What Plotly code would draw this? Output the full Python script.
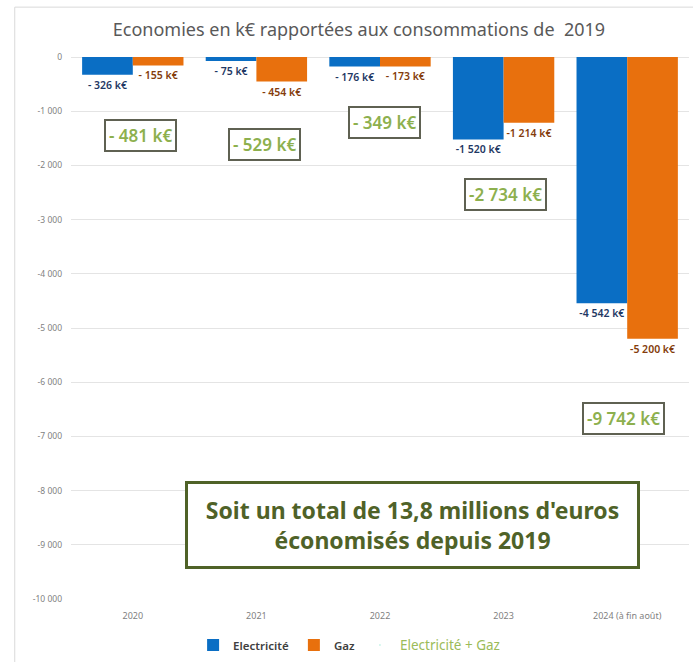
import plotly.graph_objects as go

categories = ["2020", "2021", "2022", "2023", "2024 (à fin août)"]
electricite = [-326, -75, -176, -1520, -4542]
gaz = [-155, -454, -173, -1214, -5200]
tick_vals = [0, -1000, -2000, -3000, -4000, -5000, -6000, -7000, -8000, -9000, -10000]
tick_text = ["0", "-1 000", "-2 000", "-3 000", "-4 000", "-5 000", "-6 000",
             "-7 000", "-8 000", "-9 000", "-10 000"]

totals = [e + g for e, g in zip(electricite, gaz)]

# placement of the total boxes (layout, not data)
TOTAL_BOX_Y = [-1455, -1620, -1215, -2540, -6670]
TOTAL_BOX_XSHIFT = [8, 8, 4, 2, -4]


def fmt(v):
    a = abs(v)
    if a < 1000:
        return f"- {a} k€"
    return f"-{a // 1000} {a % 1000:03d} k€"


FONT = "Noto Sans"
fig = go.Figure()
fig.add_trace(go.Bar(
    x=categories, y=electricite, name="Electricité",
    marker=dict(color="#0A6EC4", line=dict(width=0)),
    text=[fmt(v) for v in electricite], textposition="outside",
    constraintext="none", cliponaxis=False,
    textfont=dict(size=10.5, color="#1F3864", family=FONT, weight=600),
))
fig.add_trace(go.Bar(
    x=categories, y=gaz, name="Gaz",
    marker=dict(color="#E8700D", line=dict(width=0)),
    text=[fmt(v) for v in gaz], textposition="outside",
    constraintext="none", cliponaxis=False,
    textfont=dict(size=10.5, color="#843C0C", family=FONT, weight=600),
))
fig.add_trace(go.Scatter(
    x=categories, y=totals, mode="markers",
    name='<span style="color:#9BBB59;font-weight:normal;font-size:13.5px">Electricité + Gaz</span>',
    marker=dict(opacity=0, size=1), hoverinfo="skip",
))

for i, (t, ly, xs) in enumerate(zip(totals, TOTAL_BOX_Y, TOTAL_BOX_XSHIFT)):
    fig.add_annotation(
        x=i, y=ly, xref="x", yref="y", xshift=xs, text=fmt(t), showarrow=False,
        font=dict(size=17, color="#8DB04E", family=FONT, weight=600),
        bordercolor="#5F6152", borderwidth=2, borderpad=3, bgcolor="white",
    )

fig.add_annotation(
    x=0.5526, y=-8637, xref="paper", yref="y",
    text="Soit un total de 13,8 millions d'euros<br>économisés depuis 2019",
    showarrow=False, align="center",
    font=dict(size=23, color="#4F6228", family=FONT, weight="bold"),
    bordercolor="#4F6228", borderwidth=3, borderpad=6, bgcolor="white",
    width=437, height=70,
)

# outer frame
fig.add_shape(type="rect", xref="paper", yref="paper",
              x0=-0.091, x1=1.2, y0=-0.3, y1=1.092,
              line=dict(color="#D9D9D9", width=1), layer="below")

fig.update_layout(
    width=693, height=662,
    margin=dict(l=71, r=4, t=57, b=62),
    paper_bgcolor="white", plot_bgcolor="white",
    title=dict(text="Economies en k€ rapportées aux consommations de  2019",
               x=0.518, xanchor="center", y=0.955, yanchor="middle",
               font=dict(size=18, color="#595959", family=FONT)),
    barmode="group", bargap=0.18, bargroupgap=0,
    showlegend=True,
    legend=dict(orientation="h", x=0.45, xanchor="center", y=-0.083, yanchor="middle",
                font=dict(size=11.5, color="#404040", family=FONT, weight=600),
                itemwidth=30, traceorder="normal"),
    xaxis=dict(type="category", showgrid=False, showline=False, zeroline=False,
               ticklabelstandoff=10,
               tickfont=dict(size=9, color="#7F7F7F", family=FONT), ticks=""),
    yaxis=dict(range=[-10000, 0], tickvals=tick_vals, ticktext=tick_text,
               showgrid=True, gridcolor="#E4E4E4", gridwidth=1,
               zeroline=True, zerolinecolor="#E4E4E4", zerolinewidth=1,
               showline=False, ticks="", ticklabelstandoff=8,
               tickfont=dict(size=8.5, color="#7F7F7F", family=FONT)),
)

fig.write_html("out.html", config={"displayModeBar": False},
               post_script="document.body.style.margin='0px';")
